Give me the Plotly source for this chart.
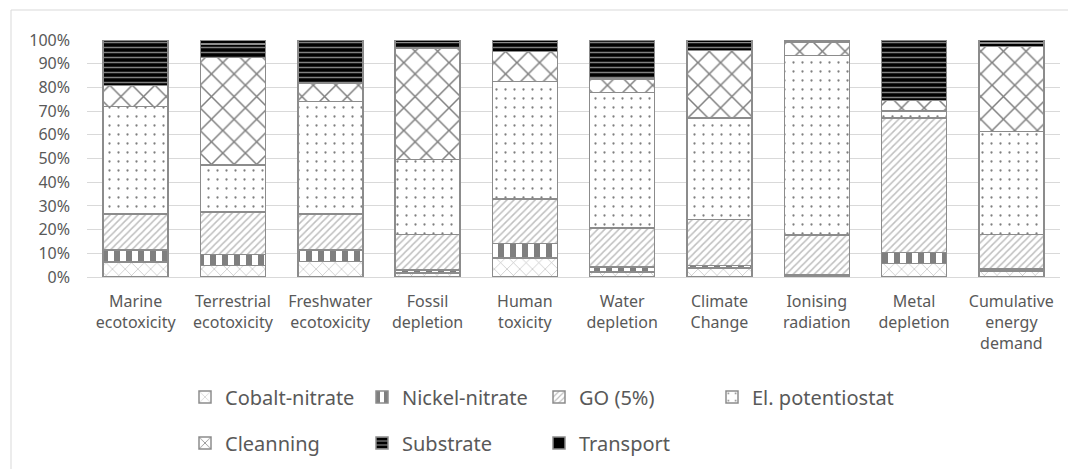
import plotly.graph_objects as go

categories = ["Marine<br>ecotoxicity", "Terrestrial<br>ecotoxicity", "Freshwater<br>ecotoxicity",
              "Fossil<br>depletion", "Human<br>toxicity", "Water<br>depletion", "Climate<br>Change",
              "Ionising<br>radiation", "Metal<br>depletion", "Cumulative<br>energy<br>demand"]

cobalt_nitrate = [6.3, 4.9, 6.6, 1.7, 8.0, 2.1, 3.9, 0.5, 5.6, 2.5]
nickel_nitrate = [5.0, 4.5, 4.7, 1.3, 6.1, 2.1, 1.0, 0.3, 4.7, 0.9]
go_5 = [15.2, 18.1, 15.2, 15.0, 18.8, 16.5, 19.4, 17.0, 56.7, 14.6]
el_potentiostat = [45.4, 19.7, 47.5, 31.6, 49.6, 57.2, 42.7, 75.6, 3.1, 43.4]
cleanning = [8.8, 45.5, 7.8, 47.0, 12.7, 5.6, 28.6, 5.6, 4.4, 35.9]
substrate = [19.0, 5.7, 17.9, 2.4, 3.8, 16.3, 3.4, 0.5, 25.2, 1.4]
transport = [0.3, 1.6, 0.3, 1.0, 1.0, 0.2, 1.0, 0.5, 0.3, 1.3]

series_names = ["Cobalt-nitrate", "Nickel-nitrate", "GO (5%)", "El. potentiostat",
                "Cleanning", "Substrate", "Transport"]
series_values = [cobalt_nitrate, nickel_nitrate, go_5, el_potentiostat, cleanning, substrate, transport]

patterns = [
    dict(shape="x", fgcolor="#7f7f7f", bgcolor="white", size=9, solidity=0.15),
    dict(shape="|", fgcolor="black", bgcolor="white", size=12, solidity=0.5),
    dict(shape="/", fgcolor="#7f7f7f", bgcolor="white", size=5, solidity=0.3),
    dict(shape=".", fgcolor="black", bgcolor="white", size=9, solidity=0.05),
    dict(shape="x", fgcolor="black", bgcolor="white", size=16, solidity=0.18),
    dict(shape="-", fgcolor="white", bgcolor="black", size=5, solidity=0.3),
    None,
]
legend_ids = ["legend", "legend", "legend", "legend3", "legend2", "legend2", "legend2"]

fig = go.Figure()
for name, vals, pat, lg in zip(series_names, series_values, patterns, legend_ids):
    marker = dict(color="black" if pat is None else "white",
                  line=dict(color="#8c8c8c", width=1.5))
    if pat is not None:
        marker["pattern"] = pat
    fig.add_trace(go.Bar(x=categories, y=vals, name=name, marker=marker, legend=lg))

# page has an 8px body margin: figure coordinates = page coordinates - 8
OFF = 8
W, H = 1076 - OFF, 469 - OFF
L, T = 87 - OFF, 40 - OFF
R = W - (1060 - OFF)
B = H - (277 - OFF)
pw, ph = W - L - R, H - T - B

def px_x(p):
    return (p - OFF - L) / pw

def px_y(p):
    return (H - B - (p - OFF)) / ph

font_family = "Noto Sans"
txt = "#595959"
leg_common = dict(orientation="h", xanchor="left", yanchor="middle",
                  font=dict(size=20, color=txt), bgcolor="rgba(0,0,0,0)", traceorder="normal")

fig.update_layout(
    width=W, height=H,
    margin=dict(l=L, r=R, t=T, b=B, autoexpand=False),
    barmode="stack", barnorm="percent", bargap=0.332,
    plot_bgcolor="white", paper_bgcolor="white",
    font=dict(family=font_family, size=16, color=txt),
    xaxis=dict(showgrid=False, showline=True, linecolor="#d9d9d9", linewidth=1,
               ticks="", tickfont=dict(size=16, color=txt), ticklabelstandoff=10),
    yaxis=dict(range=[0, 100], dtick=10, ticksuffix="%", showgrid=True, gridcolor="#d9d9d9",
               gridwidth=1, zeroline=False, showline=False, ticks="",
               tickfont=dict(size=16, color=txt), ticklabelstandoff=16),
    legend=dict(x=px_x(185), y=px_y(397), entrywidth=132, entrywidthmode="pixels", **leg_common),
    legend2=dict(x=px_x(185), y=px_y(443), entrywidth=132, entrywidthmode="pixels", **leg_common),
    legend3=dict(x=px_x(712), y=px_y(397), **leg_common),
    shapes=[dict(type="rect", xref="paper", yref="paper",
                 x0=px_x(11), x1=px_x(1090), y0=px_y(490), y1=px_y(10),
                 line=dict(color="#d9d9d9", width=1), fillcolor="rgba(0,0,0,0)", layer="below")],
)

fig.write_html("out.html")
